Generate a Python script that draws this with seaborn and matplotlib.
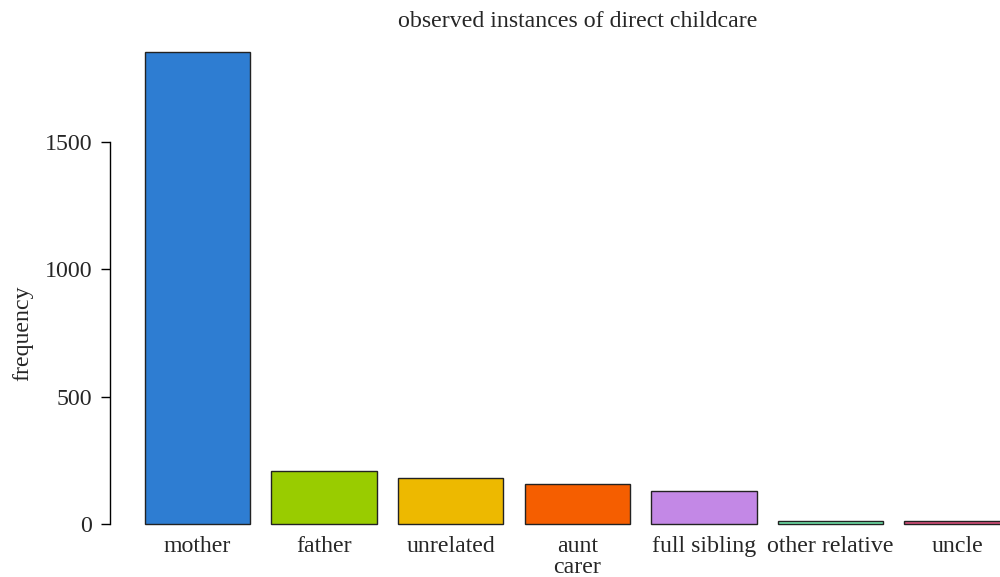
import matplotlib
matplotlib.use("Agg")
import matplotlib.pyplot as plt
import seaborn as sns
import pandas as pd

# observed instances of direct childcare, by carer
carers = ["mother", "father", "unrelated", "aunt", "full sibling", "other relative", "uncle"]
frequency = [1851, 209, 183, 158, 129, 14, 13]
bar_colors = ["#2E7DD2", "#99CC00", "#EDB900", "#F55E00", "#C388E6", "#70E6AA", "#DC4F7C"]
y_ticks = [0, 500, 1000, 1500]

df = pd.DataFrame({"carer": carers, "frequency": frequency})

sns.set_style("white")
plt.rcParams["font.family"] = ["Liberation Serif", "DejaVu Serif"]

fig = plt.figure(figsize=(10, 5.77), dpi=100)
# plot region runs a little past the right edge, like the original
ax = fig.add_axes([0.1097, 0.0589, 0.9352, 0.8839])

sns.barplot(data=df, x="carer", y="frequency", hue="carer", palette=bar_colors,
            saturation=1, width=0.833, edgecolor="#222222", linewidth=1.0,
            legend=False, ax=ax)

ax.set_xlim(-0.693, 6.693)
ax.set_ylim(-73, 1926)

sns.despine(ax=ax, bottom=True)
ax.spines["left"].set_bounds(0, 1500)
ax.spines["left"].set_linewidth(1.0)
ax.spines["left"].set_color("black")
ax.set_yticks(y_ticks)
ax.set_yticklabels([str(t) for t in y_ticks])
ax.tick_params(axis="y", direction="out", length=6.5, width=1.0, color="black",
               labelsize=17.2, pad=6, left=True)
ax.tick_params(axis="x", length=0, labelsize=17.2, pad=-5)

ax.set_title("observed instances of direct childcare", fontsize=17.2, pad=4)
ax.set_xlabel("carer", fontsize=17.2)
ax.set_ylabel("frequency", fontsize=17.2)
ax.xaxis.set_label_coords(0.5, -0.027)
ax.yaxis.set_label_coords(-0.082, 0.412)

fig.savefig("out.png", dpi=100)
